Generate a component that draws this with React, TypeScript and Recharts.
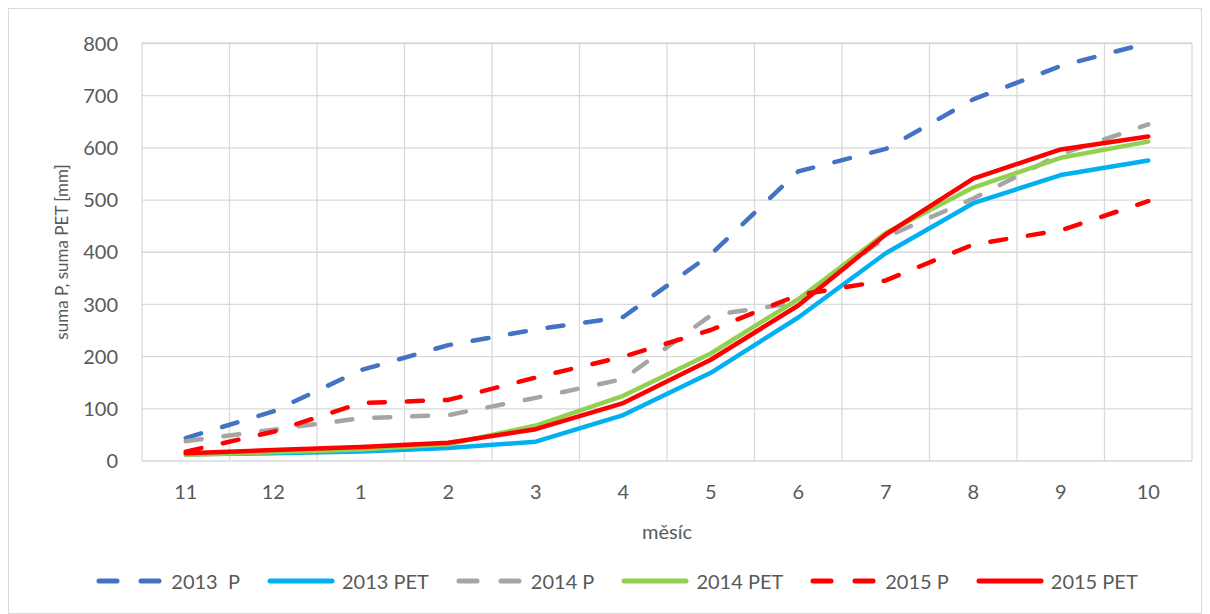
import { LineChart, Line, XAxis, YAxis, CartesianGrid, Legend } from 'recharts';

const months = ['11', '12', '1', '2', '3', '4', '5', '6', '7', '8', '9', '10'];
const p2013 = [44, 95, 174, 222, 252, 276, 396, 555, 598, 693, 757, 801];
const pet2013 = [13, 15, 18, 25, 37, 88, 169, 275, 398, 494, 548, 576];
const p2014 = [38, 60, 82, 88, 121, 157, 279, 304, 429, 503, 588, 645];
const pet2014 = [12, 17, 22, 32, 68, 125, 206, 310, 437, 524, 581, 612];
const p2015 = [18, 56, 111, 117, 160, 200, 251, 318, 346, 415, 442, 498];
const pet2015 = [15, 21, 27, 35, 61, 111, 194, 298, 434, 541, 597, 622];
const yTicks = [0, 100, 200, 300, 400, 500, 600, 700, 800];

const series = [
  { key: 'p2013', name: '2013  P', color: '#4472C4', dashed: true },
  { key: 'pet2013', name: '2013 PET', color: '#00B0F0', dashed: false },
  { key: 'p2014', name: '2014 P', color: '#A5A5A5', dashed: true },
  { key: 'pet2014', name: '2014 PET', color: '#92D050', dashed: false },
  { key: 'p2015', name: '2015 P', color: '#FF0000', dashed: true },
  { key: 'pet2015', name: '2015 PET', color: '#FF0000', dashed: false },
];

const data = months.map((m, i) => ({
  month: m,
  p2013: p2013[i],
  pet2013: pet2013[i],
  p2014: p2014[i],
  pet2014: pet2014[i],
  p2015: p2015[i],
  pet2015: pet2015[i],
}));

const TEXT = '#595959';
const GRID = '#d9d9d9';

function LegendContent() {
  return (
    <div
      style={{
        display: 'flex',
        justifyContent: 'center',
        alignItems: 'center',
        height: 30,
        gap: 26,
        paddingLeft: 32,
      }}
    >
      {series.map(s => (
        <div key={s.key} style={{ display: 'flex', alignItems: 'center' }}>
          <svg width={70} height={12}>
            <line
              x1={4}
              y1={6}
              x2={66}
              y2={6}
              stroke={s.color}
              strokeWidth={5}
              strokeLinecap="round"
              strokeDasharray={s.dashed ? '18 24' : undefined}
            />
          </svg>
          <span style={{ marginLeft: 6, color: TEXT, fontSize: 20, whiteSpace: 'pre' }}>{s.name}</span>
        </div>
      ))}
    </div>
  );
}

function YLabel({ viewBox }: any) {
  const x = viewBox.x + 52;
  const y = viewBox.y + viewBox.height / 2;
  return (
    <text
      x={x}
      y={y}
      transform={`rotate(-90, ${x}, ${y})`}
      textAnchor="middle"
      dominantBaseline="central"
      fill={TEXT}
      fontSize={17}
    >
      suma P, suma PET [mm]
    </text>
  );
}

export default function App() {
  return (
    <div
      style={{
        width: 1194,
        height: 606,
        border: `1px solid ${GRID}`,
        boxSizing: 'border-box',
        fontFamily: 'Lato, sans-serif',
        background: '#fff',
      }}
    >
      <LineChart width={1192} height={604} data={data} margin={{ top: 34, right: 9, left: 0, bottom: 17 }}>
        <CartesianGrid
          stroke={GRID}
          strokeWidth={1.3}
          verticalCoordinatesGenerator={({ offset }: any) =>
            months.map((_, i) => offset.left + (i * offset.width) / months.length).concat(offset.left + offset.width)
          }
        />
        <XAxis
          dataKey="month"
          interval={0}
          height={105}
          tickLine={false}
          axisLine={false}
          tickMargin={18}
          padding={{ left: 43.75, right: 43.75 }}
          tick={{ fill: TEXT, fontSize: 20 }}
          label={{ value: 'měsíc', position: 'insideBottom', offset: 27, fill: TEXT, fontSize: 20 }}
        />
        <YAxis
          width={133}
          domain={[0, 800]}
          ticks={yTicks}
          tickLine={false}
          axisLine={false}
          tickMargin={18}
          tick={{ fill: TEXT, fontSize: 20 }}
          label={<YLabel />}
        />
        <Legend verticalAlign="bottom" content={<LegendContent />} />
        {series.map(s => (
          <Line
            key={s.key}
            type="linear"
            dataKey={s.key}
            name={s.name}
            stroke={s.color}
            strokeWidth={4.5}
            strokeLinecap="round"
            strokeLinejoin="round"
            strokeDasharray={s.dashed ? '16 22' : undefined}
            dot={false}
            activeDot={false}
            isAnimationActive={false}
          />
        ))}
      </LineChart>
    </div>
  );
}
